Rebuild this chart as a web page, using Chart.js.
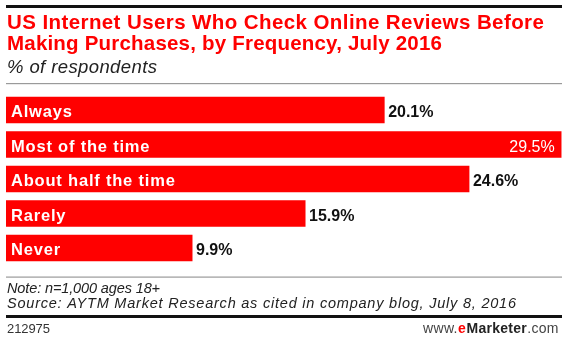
<!DOCTYPE html>
<html>
<head>
<meta charset="utf-8">
<script src="https://cdn.jsdelivr.net/npm/chart.js@4"></script>
<style>
  html, body { margin: 0; padding: 0; background: #ffffff; }
  #wrap { width: 568px; height: 342px; }
</style>
</head>
<body>
<div id="wrap"><canvas id="chart" width="568" height="342"></canvas></div>
<script>
// Survey answers and shares (% of respondents)
const categories = ["Always", "Most of the time", "About half the time", "Rarely", "Never"];
const values = [20.1, 29.5, 24.6, 15.9, 9.9];

const titleLines = [
  "US Internet Users Who Check Online Reviews Before",
  "Making Purchases, by Frequency, July 2016"
];
const subtitle = "% of respondents";
const noteLines = [
  "Note: n=1,000 ages 18+",
  "Source: AYTM Market Research as cited in company blog, July 8, 2016"
];
const chartId = "212975";

const FONT = '"Liberation Sans", Arial, Helvetica, sans-serif';
const RED = "#ff0000";

// Draw text stretched/tightened by letter spacing to span a given width
function fitText(ctx, text, x, y, width, align) {
  ctx.letterSpacing = "0px";
  const w = ctx.measureText(text).width;
  const ls = (width - w) / Math.max(1, text.length - 1);
  ctx.letterSpacing = ls.toFixed(2) + "px";
  ctx.textAlign = "left";
  const startX = align === "right" ? x - width : x;
  ctx.fillText(text, startX, y);
  ctx.letterSpacing = "0px";
}

const framePlugin = {
  id: "frame",
  afterDraw(chart) {
    const ctx = chart.ctx;
    ctx.save();
    ctx.textBaseline = "alphabetic";

    // header rules
    ctx.fillStyle = "#111111";
    ctx.fillRect(6, 5, 556, 3);
    ctx.fillStyle = "#9a9a9a";
    ctx.fillRect(6, 83, 556, 1.2);

    // title
    ctx.fillStyle = RED;
    ctx.font = "bold 20.5px " + FONT;
    fitText(ctx, titleLines[0], 7, 29, 537);
    fitText(ctx, titleLines[1], 7, 50, 435);

    // subtitle
    ctx.fillStyle = "#222222";
    ctx.font = "italic 18.5px " + FONT;
    fitText(ctx, subtitle, 7, 73, 150);

    // footer rules
    ctx.fillStyle = "#9a9a9a";
    ctx.fillRect(6, 276.5, 556, 1.2);
    ctx.fillStyle = "#111111";
    ctx.fillRect(6, 315, 556, 3);

    // notes
    ctx.fillStyle = "#222222";
    ctx.font = "italic 14.5px " + FONT;
    fitText(ctx, noteLines[0], 7, 293, 153);
    fitText(ctx, noteLines[1], 7, 308, 509);

    // chart id
    ctx.fillStyle = "#333333";
    ctx.font = "13px " + FONT;
    fitText(ctx, chartId, 7, 333, 43);

    // site mark, right aligned
    const parts = [
      { t: "www.", f: "14px " + FONT, c: "#444444" },
      { t: "e", f: "bold 14px " + FONT, c: RED },
      { t: "Marketer", f: "bold 14px " + FONT, c: "#222222" },
      { t: ".com", f: "14px " + FONT, c: "#444444" }
    ];
    let total = 0;
    parts.forEach(p => { ctx.font = p.f; p.w = ctx.measureText(p.t).width; total += p.w; });
    const scale = 134 / total;
    let px = 557 - 134;
    ctx.textAlign = "left";
    parts.forEach(p => {
      ctx.font = p.f;
      ctx.fillStyle = p.c;
      fitText(ctx, p.t, px, 333, p.w * scale);
      px += p.w * scale + 0.5;
    });

    ctx.restore();
  }
};

const barLabelPlugin = {
  id: "barLabels",
  afterDatasetsDraw(chart) {
    const ctx = chart.ctx;
    const meta = chart.getDatasetMeta(0);
    const xScale = chart.scales.x;
    ctx.save();
    ctx.textBaseline = "alphabetic";
    meta.data.forEach((bar, i) => {
      const yBase = bar.y + 7;
      // category name inside the bar
      ctx.fillStyle = "#ffffff";
      ctx.font = "bold 16.5px " + FONT;
      ctx.letterSpacing = "0.8px";
      ctx.textAlign = "left";
      ctx.fillText(categories[i], xScale.left + 5, yBase);
      ctx.letterSpacing = "0px";
      const label = values[i].toFixed(1) + "%";
      if (values[i] === Math.max(...values)) {
        ctx.font = "16px " + FONT;
        ctx.textAlign = "right";
        ctx.fillStyle = "#ffffff";
        ctx.fillText(label, bar.x - 7, yBase);
      } else {
        ctx.font = "bold 16px " + FONT;
        ctx.textAlign = "left";
        ctx.fillStyle = "#111111";
        ctx.fillText(label, bar.x + 3.5, yBase);
      }
    });
    ctx.restore();
  }
};

new Chart(document.getElementById("chart"), {
  type: "bar",
  data: {
    labels: categories,
    datasets: [{
      data: values,
      backgroundColor: RED,
      borderWidth: 0,
      categoryPercentage: 1.0,
      barPercentage: 0.762
    }]
  },
  options: {
    indexAxis: "y",
    responsive: false,
    maintainAspectRatio: false,
    devicePixelRatio: 1,
    animation: false,
    layout: { padding: { left: 6, right: 6.3, top: 92.75, bottom: 76.75 } },
    scales: {
      x: { display: false, min: 0, max: 29.5 },
      y: { display: false }
    },
    plugins: {
      legend: { display: false },
      tooltip: { enabled: false },
      title: { display: false }
    }
  },
  plugins: [barLabelPlugin, framePlugin]
});
</script>
</body>
</html>
